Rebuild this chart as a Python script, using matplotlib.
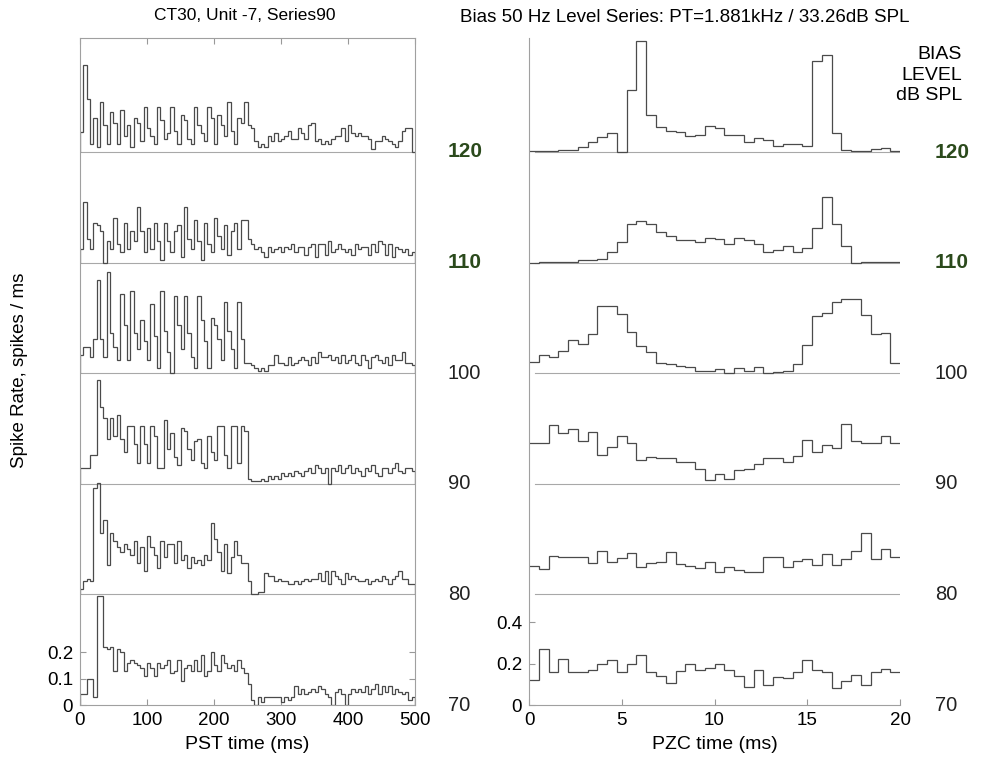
import matplotlib
matplotlib.use('Agg')
import matplotlib.pyplot as plt
import matplotlib.transforms as mtransforms
import numpy as np

plt.rcParams['font.family'] = ['Liberation Sans', 'DejaVu Sans']

# bias levels, bottom to top (dB SPL)
levels = [70, 80, 90, 100, 110, 120]
bold_levels = [110, 120]

# PST histograms, 5 ms bins over 0-500 ms (spikes / ms)
pst_70 = [0.04, 0.04, 0.10, 0.10, 0.03, 0.41, 0.41, 0.22, 0.21, 0.22, 0.13, 0.21, 0.20, 0.13, 0.16, 0.17, 0.16, 0.15, 0.14, 0.11,
          0.16, 0.14, 0.11, 0.16, 0.14, 0.15, 0.17, 0.12, 0.13, 0.17, 0.09, 0.14, 0.15, 0.13, 0.17, 0.13, 0.19, 0.11, 0.13, 0.20,
          0.15, 0.13, 0.19, 0.16, 0.14, 0.15, 0.13, 0.17, 0.14, 0.12, 0.08, 0.02, 0.00, 0.03, 0.01, 0.03, 0.03, 0.03, 0.03, 0.03,
          0.01, 0.03, 0.02, 0.03, 0.07, 0.04, 0.06, 0.04, 0.05, 0.06, 0.05, 0.07, 0.06, 0.04, 0.03, 0.00, 0.05, 0.06, 0.04, 0.00,
          0.04, 0.06, 0.05, 0.06, 0.05, 0.07, 0.04, 0.06, 0.08, 0.04, 0.07, 0.05, 0.07, 0.04, 0.06, 0.05, 0.04, 0.05, 0.02, 0.03]
pst_80 = [0.02, 0.05, 0.06, 0.05, 0.40, 0.42, 0.23, 0.28, 0.11, 0.23, 0.20, 0.18, 0.16, 0.19, 0.17, 0.15, 0.20, 0.12, 0.18, 0.09,
          0.22, 0.18, 0.15, 0.10, 0.20, 0.14, 0.19, 0.19, 0.12, 0.20, 0.13, 0.15, 0.10, 0.14, 0.12, 0.13, 0.11, 0.15, 0.13, 0.27,
          0.21, 0.16, 0.09, 0.19, 0.08, 0.14, 0.20, 0.15, 0.12, 0.12, 0.05, 0.00, 0.00, 0.01, 0.01, 0.08, 0.07, 0.07, 0.05, 0.06,
          0.05, 0.05, 0.04, 0.04, 0.05, 0.04, 0.05, 0.06, 0.05, 0.06, 0.06, 0.08, 0.05, 0.09, 0.04, 0.09, 0.07, 0.06, 0.04, 0.08,
          0.06, 0.07, 0.06, 0.05, 0.05, 0.06, 0.04, 0.05, 0.06, 0.05, 0.07, 0.06, 0.04, 0.06, 0.07, 0.09, 0.06, 0.06, 0.04, 0.04]
pst_90 = [0.06, 0.06, 0.06, 0.11, 0.11, 0.39, 0.29, 0.25, 0.17, 0.25, 0.18, 0.26, 0.17, 0.12, 0.22, 0.22, 0.15, 0.08, 0.22, 0.15,
          0.08, 0.22, 0.18, 0.06, 0.06, 0.24, 0.13, 0.19, 0.10, 0.07, 0.21, 0.20, 0.13, 0.09, 0.16, 0.17, 0.08, 0.06, 0.18, 0.12,
          0.09, 0.22, 0.22, 0.11, 0.06, 0.22, 0.22, 0.08, 0.22, 0.20, 0.02, 0.01, 0.01, 0.01, 0.02, 0.01, 0.03, 0.02, 0.03, 0.02,
          0.04, 0.03, 0.04, 0.03, 0.05, 0.04, 0.03, 0.05, 0.06, 0.04, 0.07, 0.06, 0.04, 0.06, 0.00, 0.06, 0.05, 0.07, 0.04, 0.06,
          0.07, 0.04, 0.06, 0.05, 0.03, 0.06, 0.05, 0.07, 0.04, 0.03, 0.06, 0.06, 0.04, 0.06, 0.08, 0.05, 0.04, 0.06, 0.06, 0.05]
pst_100 = [0.07, 0.10, 0.10, 0.06, 0.13, 0.35, 0.13, 0.06, 0.38, 0.15, 0.10, 0.05, 0.30, 0.18, 0.05, 0.31, 0.15, 0.09, 0.20, 0.12,
           0.05, 0.26, 0.14, 0.02, 0.31, 0.16, 0.08, 0.00, 0.29, 0.18, 0.09, 0.29, 0.15, 0.06, 0.02, 0.29, 0.20, 0.12, 0.02, 0.21,
           0.18, 0.13, 0.05, 0.27, 0.16, 0.09, 0.02, 0.27, 0.13, 0.04, 0.04, 0.03, 0.02, 0.01, 0.02, 0.01, 0.03, 0.03, 0.07, 0.04,
           0.04, 0.03, 0.06, 0.03, 0.04, 0.05, 0.06, 0.05, 0.03, 0.06, 0.04, 0.08, 0.06, 0.06, 0.07, 0.05, 0.06, 0.04, 0.07, 0.04,
           0.05, 0.07, 0.04, 0.03, 0.07, 0.05, 0.02, 0.06, 0.07, 0.05, 0.04, 0.06, 0.03, 0.07, 0.05, 0.05, 0.08, 0.04, 0.04, 0.03]
pst_110 = [0.05, 0.23, 0.09, 0.05, 0.15, 0.14, 0.12, 0.00, 0.08, 0.05, 0.17, 0.07, 0.04, 0.15, 0.05, 0.12, 0.08, 0.21, 0.12, 0.04,
           0.13, 0.05, 0.15, 0.08, 0.01, 0.15, 0.08, 0.04, 0.12, 0.14, 0.02, 0.21, 0.09, 0.05, 0.16, 0.08, 0.01, 0.15, 0.07, 0.04,
           0.17, 0.10, 0.05, 0.14, 0.03, 0.12, 0.15, 0.05, 0.16, 0.16, 0.09, 0.07, 0.05, 0.06, 0.04, 0.02, 0.06, 0.04, 0.05, 0.06,
           0.04, 0.06, 0.05, 0.07, 0.04, 0.06, 0.06, 0.03, 0.06, 0.07, 0.02, 0.07, 0.07, 0.03, 0.08, 0.04, 0.05, 0.07, 0.05, 0.04,
           0.05, 0.03, 0.07, 0.05, 0.06, 0.06, 0.03, 0.07, 0.04, 0.08, 0.07, 0.03, 0.07, 0.02, 0.06, 0.05, 0.04, 0.05, 0.03, 0.04]
pst_120 = [0.075, 0.33, 0.20, 0.03, 0.13, 0.02, 0.19, 0.10, 0.03, 0.15, 0.11, 0.03, 0.16, 0.06, 0.10, 0.02, 0.13, 0.11, 0.04, 0.17,
           0.09, 0.06, 0.03, 0.17, 0.12, 0.05, 0.07, 0.17, 0.08, 0.03, 0.14, 0.12, 0.05, 0.03, 0.17, 0.10, 0.07, 0.04, 0.17, 0.13,
           0.03, 0.14, 0.10, 0.06, 0.19, 0.08, 0.03, 0.13, 0.11, 0.19, 0.10, 0.09, 0.04, 0.02, 0.03, 0.02, 0.06, 0.04, 0.07, 0.04,
           0.05, 0.06, 0.08, 0.05, 0.05, 0.09, 0.07, 0.05, 0.10, 0.11, 0.04, 0.05, 0.03, 0.04, 0.03, 0.05, 0.06, 0.06, 0.09, 0.04,
           0.10, 0.07, 0.06, 0.07, 0.06, 0.06, 0.05, 0.01, 0.04, 0.04, 0.06, 0.05, 0.04, 0.03, 0.02, 0.04, 0.08, 0.09, 0.09, 0.00]

# period histograms re positive zero crossing, 38 bins over 0-20 ms
pzc_70 = [0.12, 0.27, 0.16, 0.22, 0.16, 0.16, 0.17, 0.197, 0.217, 0.16, 0.20, 0.241, 0.158, 0.142, 0.108, 0.165, 0.197, 0.17, 0.178,
          0.20, 0.17, 0.14, 0.088, 0.17, 0.097, 0.137, 0.13, 0.16, 0.217, 0.17, 0.16, 0.08, 0.117, 0.145, 0.097, 0.158, 0.173, 0.158]
pzc_80 = [0.137, 0.124, 0.185, 0.18, 0.18, 0.18, 0.15, 0.21, 0.156, 0.177, 0.198, 0.133, 0.15, 0.158, 0.206, 0.145, 0.137, 0.129,
          0.158, 0.11, 0.133, 0.116, 0.11, 0.11, 0.18, 0.18, 0.132, 0.16, 0.172, 0.14, 0.196, 0.14, 0.169, 0.21, 0.295, 0.172, 0.22, 0.18]
pzc_90 = [0.198, 0.198, 0.285, 0.245, 0.265, 0.205, 0.25, 0.14, 0.18, 0.233, 0.198, 0.118, 0.13, 0.125, 0.125, 0.105, 0.105, 0.073,
          0.017, 0.047, 0.025, 0.065, 0.073, 0.097, 0.125, 0.125, 0.108, 0.134, 0.21, 0.156, 0.188, 0.172, 0.29, 0.205, 0.196, 0.20,
          0.233, 0.198]
pzc_100 = [0.055, 0.087, 0.08, 0.108, 0.16, 0.143, 0.19, 0.325, 0.325, 0.285, 0.20, 0.13, 0.103, 0.05, 0.044, 0.036, 0.03, 0.011,
           0.011, 0.02, 0.003, 0.028, 0.011, 0.032, 0.003, 0.008, 0.011, 0.044, 0.135, 0.277, 0.29, 0.344, 0.358, 0.358, 0.28, 0.19,
           0.195, 0.05]
pzc_110 = [0.0, 0.003, 0.003, 0.003, 0.003, 0.016, 0.016, 0.02, 0.05, 0.10, 0.19, 0.20, 0.19, 0.15, 0.13, 0.11, 0.11, 0.10, 0.12,
           0.115, 0.09, 0.12, 0.11, 0.09, 0.05, 0.06, 0.08, 0.05, 0.07, 0.17, 0.32, 0.19, 0.08, 0.0, 0.003, 0.003, 0.003, 0.005]
pzc_120 = [0.005, 0.005, 0.005, 0.012, 0.012, 0.024, 0.048, 0.072, 0.093, 0.0, 0.30, 0.54, 0.18, 0.12, 0.105, 0.096, 0.08, 0.084,
           0.125, 0.115, 0.084, 0.084, 0.05, 0.07, 0.06, 0.03, 0.04, 0.04, 0.03, 0.44, 0.47, 0.093, 0.01, 0.005, 0.005, 0.015, 0.02,
           0.005]

pst_all = [pst_70, pst_80, pst_90, pst_100, pst_110, pst_120]
pzc_all = [pzc_70, pzc_80, pzc_90, pzc_100, pzc_110, pzc_120]

pst_step = 0.4174   # vertical offset between stacked PST traces
pzc_step = 0.534    # vertical offset between stacked PZC traces
trace_col = '#4a4a4a'
base_col = '#a8a8a8'
green = '#2b4a1c'

fig = plt.figure(figsize=(9.95, 7.65), dpi=100)
axl = fig.add_axes([0.0804, 0.0784, 0.3367, 0.8719])
axr = fig.add_axes([0.5317, 0.0784, 0.3729, 0.8719])

# left: PST histograms
pst_edges = np.linspace(0, 500, len(pst_70) + 1)
for i, vals in enumerate(pst_all):
    off = i * pst_step
    if i > 0:
        axl.axhline(off, color=base_col, lw=0.8, zorder=1)
    axl.stairs(np.array(vals) + off, pst_edges, baseline=off, color=trace_col, lw=0.9, zorder=2)
axl.set_xlim(0, 500)
axl.set_ylim(0, 2.517)
axl.set_xticks([0, 100, 200, 300, 400, 500])
axl.set_yticks([0, 0.1, 0.2])
axl.set_yticklabels(['0', '0.1', '0.2'])
axl.tick_params(direction='in', top=True, right=True, labelsize=13.5, length=4, color='#999999', pad=5)
for s in axl.spines.values():
    s.set_color('#a0a0a0')
    s.set_linewidth(0.8)
axl.set_xlabel('PST time (ms)', fontsize=14, labelpad=5)

# right: PZC histograms
pzc_edges = np.linspace(0, 20, len(pzc_70) + 1)
for i, vals in enumerate(pzc_all):
    off = i * pzc_step
    if i > 0:
        axr.axhline(off, xmin=0.015, color=base_col, lw=0.8, zorder=1)
    axr.stairs(np.array(vals) + off, pzc_edges, baseline=None, color=trace_col, lw=0.9, zorder=2)
axr.set_xlim(0, 20)
axr.set_ylim(0, 3.222)
axr.set_xticks([0, 5, 10, 15, 20])
axr.set_yticks([0, 0.2, 0.4])
axr.set_yticklabels(['0', '0.2', '0.4'])
axr.tick_params(direction='in', labelsize=13.5, length=4, color='#999999', pad=5)
axr.spines['top'].set_visible(False)
axr.spines['right'].set_visible(False)
for s in ['left', 'bottom']:
    axr.spines[s].set_color('#a0a0a0')
    axr.spines[s].set_linewidth(0.8)
axr.set_xlabel('PZC time (ms)', fontsize=14, labelpad=5)

# level labels beside each panel
for ax, step, xpos in [(axl, pst_step, 1.098), (axr, pzc_step, 1.094)]:
    tr = mtransforms.blended_transform_factory(ax.transAxes, ax.transData)
    for i, lev in enumerate(levels):
        if lev in bold_levels:
            ax.text(xpos, i * step, str(lev), transform=tr, ha='left', va='center',
                    fontsize=15, fontweight='bold', color=green, clip_on=False)
        else:
            ax.text(xpos, i * step, str(lev), transform=tr, ha='left', va='center',
                    fontsize=14.5, color='#222222', clip_on=False)

fig.text(20 / 995, 1 - 370 / 765, 'Spike Rate, spikes / ms', rotation=90, ha='center', va='center', fontsize=13.5)
fig.text(245 / 995, 1 - 16 / 765, 'CT30, Unit -7, Series90', ha='center', va='center', fontsize=12.5)
fig.text(685 / 995, 1 - 17 / 765, 'Bias 50 Hz Level Series: PT=1.881kHz / 33.26dB SPL',
         ha='center', va='center', fontsize=13.5)
fig.text(962 / 995, 1 - 75 / 765, 'BIAS\nLEVEL\ndB SPL', ha='right', va='center',
         multialignment='right', fontsize=14, linespacing=1.3)

fig.savefig('out.png', dpi=100)
